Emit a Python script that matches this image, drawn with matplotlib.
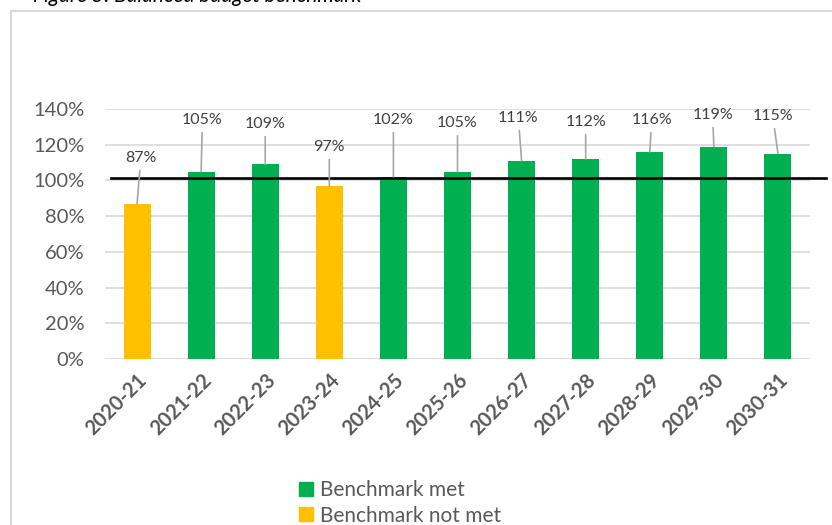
import matplotlib
matplotlib.use("Agg")
import matplotlib.pyplot as plt
from matplotlib.patches import Rectangle

years = ["2020-21", "2021-22", "2022-23", "2023-24", "2024-25", "2025-26",
         "2026-27", "2027-28", "2028-29", "2029-30", "2030-31"]
values = [87, 105, 109, 97, 102, 105, 111, 112, 116, 119, 115]
benchmark = 101.6
label_y = [112.5, 133.8, 131.6, 118.7, 133.8, 132.0, 135.0, 132.7, 133.8, 136.6, 136.0]
label_dx = [0.06, 0.02, 0.0, 0.0, 0.0, 0.0, -0.05, 0.0, 0.03, -0.02, -0.08]

GREEN = "#00B050"
YELLOW = "#FFC000"
FONT = "Lato"

plt.rcParams['font.family'] = [FONT, 'DejaVu Sans']

fig = plt.figure(figsize=(8.32, 5.25), dpi=100)
W, H = 832, 525

# chart area frame
fig.patches.append(Rectangle((11 / W, -0.05), 1.0, 1 - 11 / H + 0.05,
                             transform=fig.transFigure, fill=False,
                             edgecolor="#D9D9D9", linewidth=1.5))
fig.text(33 / W, 1 - 2 / H, "Figure 5: Balanced budget benchmark",
         fontsize=15, style="italic", color="#000000", va="baseline", ha="left")

ax = fig.add_axes([105 / W, 1 - 359 / H, (810 - 105) / W, (359 - 109) / H])
x = list(range(len(years)))
colors = [GREEN if v >= benchmark else YELLOW for v in values]
ax.bar(x, values, width=0.42, color=colors, zorder=2)

ax.set_xlim(-0.5, 10.5)
ax.set_ylim(0, 140)
ax.set_yticks(range(0, 141, 20))
ax.set_yticklabels([f"{t}%" for t in range(0, 141, 20)], fontsize=14.5, color="#595959")
ax.set_xticks(x)
ax.set_xticklabels(years, rotation=45, ha="right", rotation_mode="anchor",
                   fontsize=14.5, fontweight="bold", color="#595959")
ax.tick_params(axis="y", length=0, pad=15)
ax.tick_params(axis="x", length=0, pad=8)
ax.grid(axis="y", color="#D9D9D9", linewidth=1.2, zorder=0)
for s in ax.spines.values():
    s.set_visible(False)

# benchmark line
ax.plot([-0.41, 10.75], [benchmark, benchmark], color="black", linewidth=1.9,
        zorder=4, clip_on=False)

# data labels with leader lines
for i, v in enumerate(values):
    ax.annotate(f"{v}%", xy=(i, v), xytext=(i + label_dx[i], label_y[i]),
                ha="center", va="center", fontsize=11.5, color="#404040",
                arrowprops=dict(arrowstyle="-", color="#A6A6A6", linewidth=1.2,
                                shrinkA=2, shrinkB=0), zorder=5)

handles = [Rectangle((0, 0), 1, 1, color=GREEN), Rectangle((0, 0), 1, 1, color=YELLOW)]
fig.legend(handles, ["Benchmark met", "Benchmark not met"],
           loc="center", bbox_to_anchor=(400 / W, 1 - 503 / H), ncol=1,
           frameon=False, fontsize=15, handlelength=0.65, handleheight=0.65,
           handletextpad=0.35, labelspacing=0.25, labelcolor="#595959",
           borderaxespad=0, borderpad=0)

fig.savefig("out.png", dpi=100)
